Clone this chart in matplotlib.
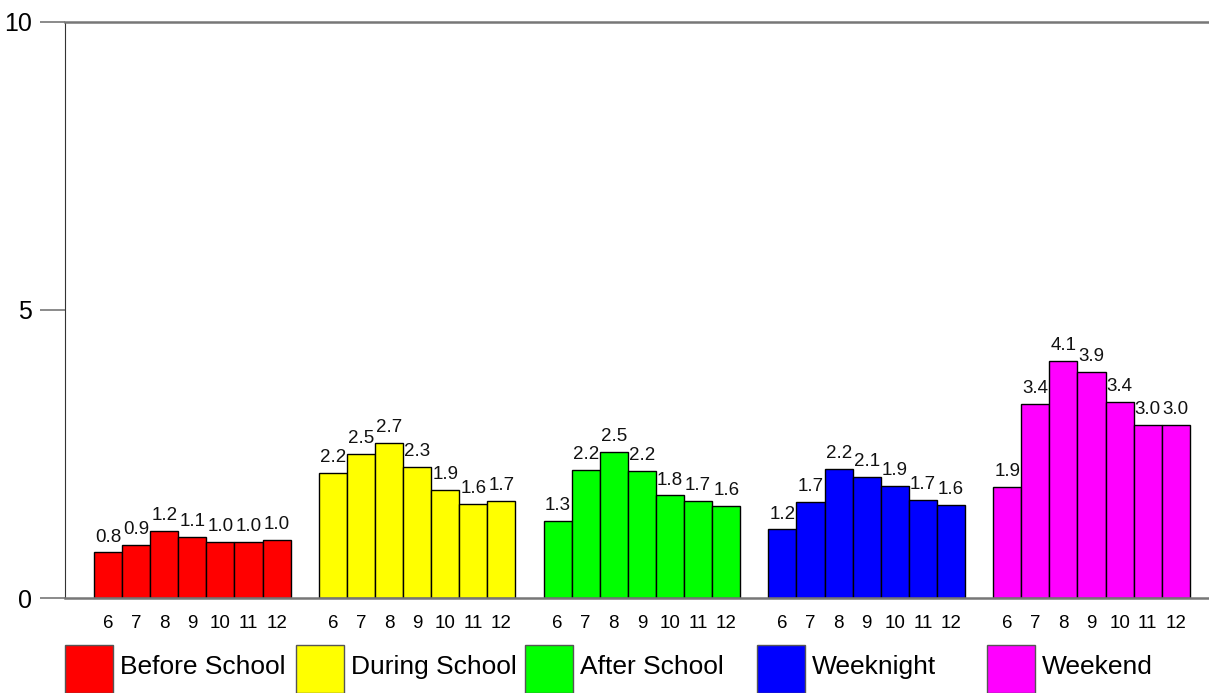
import matplotlib
matplotlib.use("Agg")
import matplotlib.pyplot as plt
from matplotlib.patches import Rectangle
import numpy as np

plt.rcParams["font.family"] = ["Liberation Sans", "DejaVu Sans"]

# ── Data ──────────────────────────────────────────────────────────────────────
grades = ["6", "7", "8", "9", "10", "11", "12"]
periods = ["Before School", "During School", "After School", "Weeknight", "Weekend"]
colors = ["#ff0000", "#ffff00", "#00ff00", "#0000ff", "#ff00ff"]

before_school = [0.79, 0.92, 1.16, 1.06, 0.97, 0.98, 1.01]
during_school = [2.17, 2.50, 2.69, 2.28, 1.88, 1.64, 1.68]
after_school = [1.33, 2.23, 2.54, 2.21, 1.78, 1.68, 1.59]
weeknight = [1.19, 1.67, 2.24, 2.10, 1.94, 1.71, 1.61]
weekend = [1.93, 3.37, 4.11, 3.92, 3.41, 3.00, 3.00]

series = [before_school, during_school, after_school, weeknight, weekend]

# ── Plot ──────────────────────────────────────────────────────────────────────
fig = plt.figure(figsize=(12.09, 6.93), dpi=100)
ax = fig.add_axes([65 / 1209, 95 / 693, 1 - 65 / 1209, 576 / 693])

n = len(grades)
slot = n + 1
xticks, xlabels = [], []
for g, (vals, col) in enumerate(zip(series, colors)):
    x = g * slot + np.arange(n)
    ax.bar(x, vals, width=1.0, color=col, edgecolor="black", linewidth=1)
    for xi, v in zip(x, vals):
        ax.annotate(f"{v:.1f}", (xi, v), xytext=(0, 5), textcoords="offset points",
                    ha="center", va="bottom", fontsize=13.5, color="#111111")
    xticks.extend(x)
    xlabels.extend(grades)

ax.set_xlim(-1.53, 39.18)
ax.set_ylim(0, 10)
ax.set_yticks([0, 5, 10])
ax.set_yticklabels(["0", "5", "10"], fontsize=18)
ax.set_xticks(xticks)
ax.set_xticklabels(xlabels, fontsize=13.5)
ax.tick_params(axis="x", length=0, pad=12)
ax.tick_params(axis="y", length=18, color="#777777", width=1.2, pad=6)

for side in ["top", "bottom"]:
    ax.spines[side].set_color("#777777")
    ax.spines[side].set_linewidth(1.8)
ax.spines["left"].set_color("#333333")
ax.spines["right"].set_visible(False)

# Legend row under the axis
W, H = 1209, 693
leg_x = [65, 296, 525, 757, 987]
for lx, lab, col in zip(leg_x, periods, colors):
    fig.add_artist(Rectangle((lx / W, 0), 48 / W, 48 / H, transform=fig.transFigure,
                             facecolor=col, edgecolor="#555555", linewidth=1))
    fig.text((lx + 55) / W, 26 / H, lab, fontsize=19, va="center", ha="left")

fig.savefig("out.png", dpi=100)
